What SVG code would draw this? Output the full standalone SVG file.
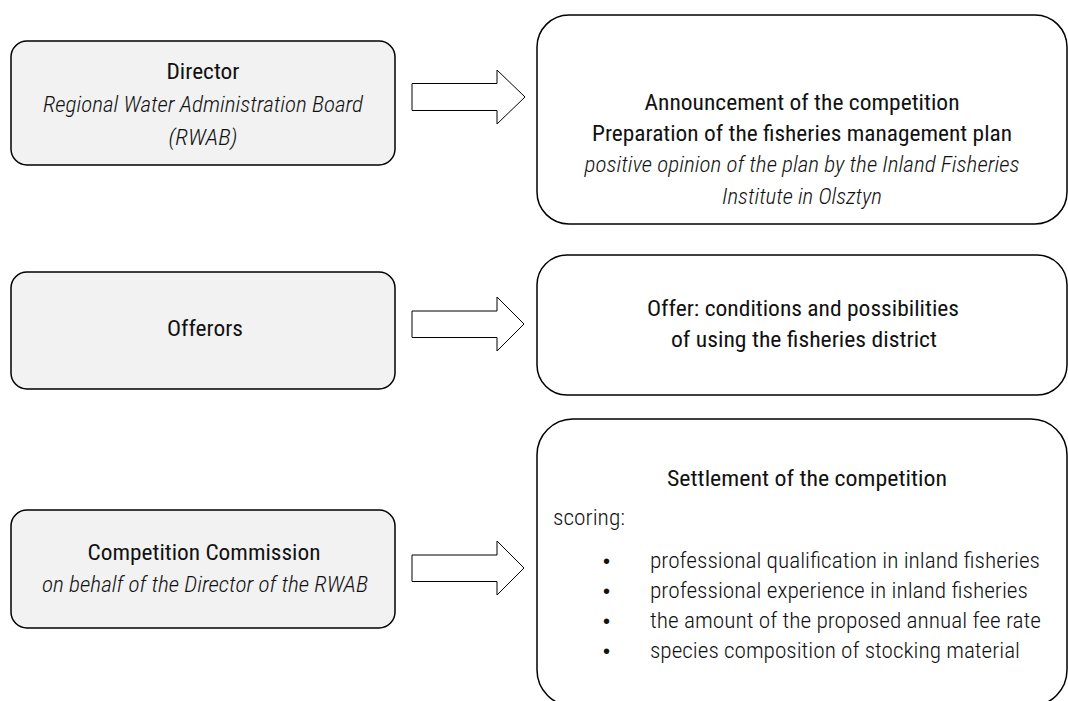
<svg xmlns="http://www.w3.org/2000/svg" width="1068" height="701" viewBox="0 0 1068 701">
<style>
.lbox{fill:#f2f2f2;stroke:#000;stroke-width:1.5}
.rbox{fill:#fff;stroke:#000;stroke-width:1.5}
.arr{fill:#fff;stroke:#000;stroke-width:1}
text{font-family:"Roboto Condensed",Roboto,"Liberation Sans",sans-serif;font-size:22.5px;fill:#111}
.t{font-weight:400;text-anchor:middle}
.i{font-weight:300;font-style:italic;text-anchor:middle}
.l{font-weight:300}
.b{font-family:"Liberation Sans",sans-serif;font-size:20px}
</style>
<rect width="1068" height="701" fill="#fff"/>
<g id="connectors">
<path class="arr" d="M412,83.5H497V70L525,97L497,124V110.5H412Z"/>
<path class="arr" d="M412,311H497V297L524,324L497,351V337.5H412Z"/>
<path class="arr" d="M412,555H497V541L524,568L497,595V581.5H412Z"/>
</g>
<g id="director">
<rect class="lbox" x="11" y="41" width="384" height="124" rx="16"/>
<text class="t" x="203" y="79" textLength="73" lengthAdjust="spacingAndGlyphs">Director</text>
<text class="i" x="203" y="112" textLength="320" lengthAdjust="spacingAndGlyphs">Regional Water Administration Board</text>
<text class="i" x="203" y="145" textLength="69" lengthAdjust="spacingAndGlyphs">(RWAB)</text>
</g>
<g id="announcement">
<rect class="rbox" x="537" y="15" width="530" height="209" rx="32"/>
<text class="t" x="802" y="110" textLength="315" lengthAdjust="spacingAndGlyphs">Announcement of the competition</text>
<text class="t" x="802" y="141" textLength="420" lengthAdjust="spacingAndGlyphs">Preparation of the fisheries management plan</text>
<text class="i" x="802" y="172" textLength="435" lengthAdjust="spacingAndGlyphs">positive opinion of the plan by the Inland Fisheries</text>
<text class="i" x="802" y="204" textLength="160" lengthAdjust="spacingAndGlyphs">Institute in Olsztyn</text>
</g>
<g id="offerors">
<rect class="lbox" x="11" y="272" width="384" height="117" rx="16"/>
<text class="t" x="205" y="336" textLength="76" lengthAdjust="spacingAndGlyphs">Offerors</text>
</g>
<g id="offer">
<rect class="rbox" x="537" y="255" width="530" height="140" rx="30"/>
<text class="t" x="803" y="316" textLength="312" lengthAdjust="spacingAndGlyphs">Offer: conditions and possibilities</text>
<text class="t" x="804" y="347" textLength="266" lengthAdjust="spacingAndGlyphs">of using the fisheries district</text>
</g>
<g id="commission">
<rect class="lbox" x="11" y="510" width="384" height="118" rx="16"/>
<text class="t" x="204" y="560" textLength="233" lengthAdjust="spacingAndGlyphs">Competition Commission</text>
<text class="i" x="205" y="592" textLength="326" lengthAdjust="spacingAndGlyphs">on behalf of the Director of the RWAB</text>
</g>
<g id="settlement">
<rect class="rbox" x="537" y="419" width="530" height="287" rx="36"/>
<text class="t" x="807" y="486" textLength="280" lengthAdjust="spacingAndGlyphs">Settlement of the competition</text>
<text class="l" x="553" y="525" textLength="72" lengthAdjust="spacingAndGlyphs">scoring:</text>
<text class="b" x="603" y="568">•</text>
<text class="l" x="650" y="568" textLength="390" lengthAdjust="spacingAndGlyphs">professional qualification in inland fisheries</text>
<text class="b" x="603" y="598">•</text>
<text class="l" x="650" y="598" textLength="378" lengthAdjust="spacingAndGlyphs">professional experience in inland fisheries</text>
<text class="b" x="603" y="628">•</text>
<text class="l" x="650" y="628" textLength="391" lengthAdjust="spacingAndGlyphs">the amount of the proposed annual fee rate</text>
<text class="b" x="603" y="658">•</text>
<text class="l" x="650" y="658" textLength="370" lengthAdjust="spacingAndGlyphs">species composition of stocking material</text>
</g>
</svg>
